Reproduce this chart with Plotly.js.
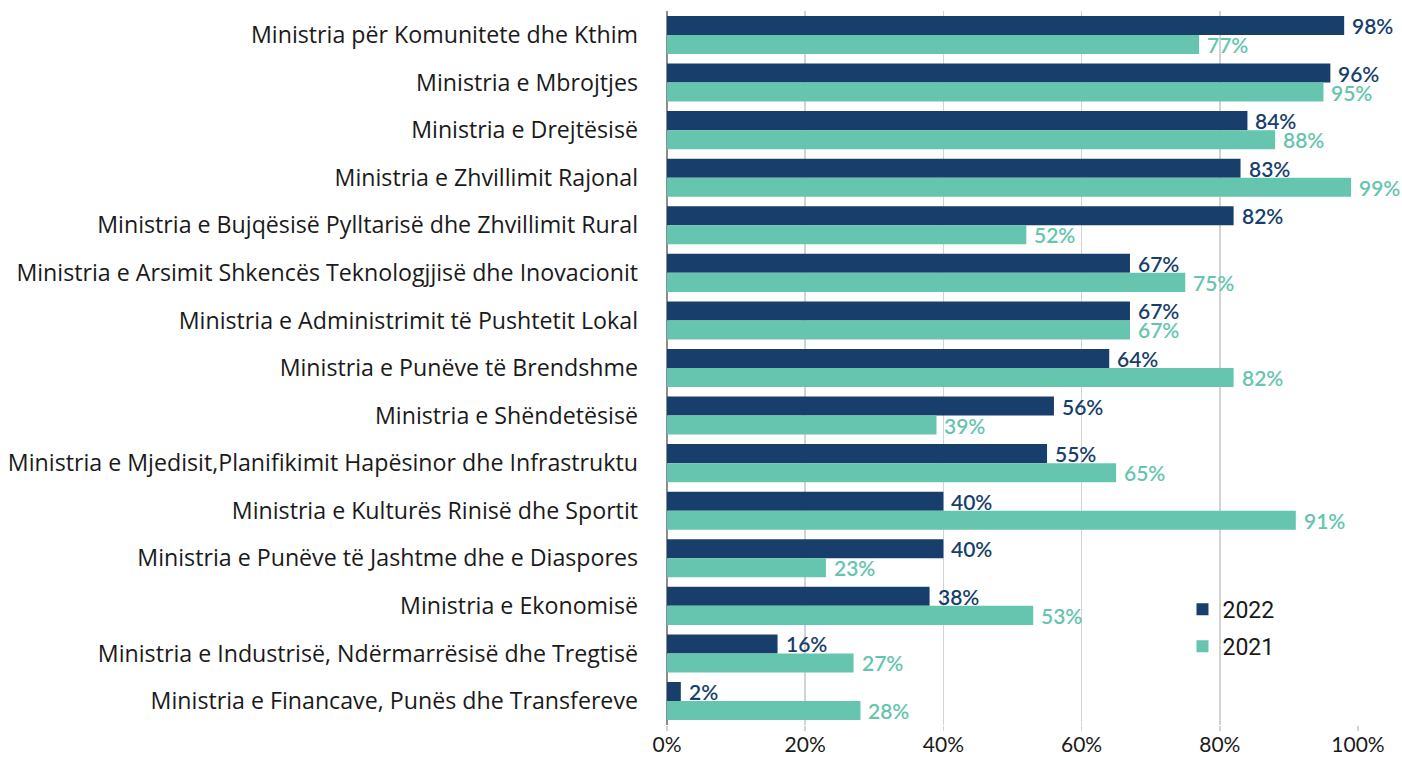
<!DOCTYPE html>
<html><head><meta charset="utf-8">
<script src="https://cdn.plot.ly/plotly-3.0.1.min.js"></script>
<style>html,body{margin:0;padding:0;background:#fff}#c{width:1402px;height:758px}</style>
</head><body><div id="c"></div>
<script>
const categories = [
  "Ministria për Komunitete dhe Kthim",
  "Ministria e Mbrojtjes",
  "Ministria e Drejtësisë",
  "Ministria e Zhvillimit Rajonal",
  "Ministria e Bujqësisë Pylltarisë dhe Zhvillimit Rural",
  "Ministria e Arsimit Shkencës Teknologjjisë dhe Inovacionit",
  "Ministria e Administrimit të Pushtetit Lokal",
  "Ministria e Punëve të Brendshme",
  "Ministria e Shëndetësisë",
  "Ministria e Mjedisit,Planifikimit Hapësinor dhe Infrastruktu",
  "Ministria e Kulturës Rinisë dhe Sportit",
  "Ministria e Punëve të Jashtme dhe e Diaspores",
  "Ministria e Ekonomisë",
  "Ministria e Industrisë, Ndërmarrësisë dhe Tregtisë",
  "Ministria e Financave, Punës dhe Transfereve"
];
const values2022 = [0.98,0.96,0.84,0.83,0.82,0.67,0.67,0.64,0.56,0.55,0.40,0.40,0.38,0.16,0.02];
const values2021 = [0.77,0.95,0.88,0.99,0.52,0.75,0.67,0.82,0.39,0.65,0.91,0.23,0.53,0.27,0.28];
const tickVals = [0,0.2,0.4,0.6,0.8,1.0];
const tickText = ["0%","20%","40%","60%","80%","100%"];

const navy = "#183f6b";
const teal = "#66c5ae";
const fmt = v => Math.round(v*100) + "%";

const traces = [
  {type:"bar", orientation:"h", name:"2022", legendgroup:"a", y:categories, x:values2022,
   marker:{color:navy}, hoverinfo:"skip"},
  {type:"bar", orientation:"h", name:"2021", legendgroup:"b", y:categories, x:values2021,
   marker:{color:teal}, hoverinfo:"skip"}
];

const annotations = [];
categories.forEach((c, i) => {
  annotations.push({x:values2022[i], y:c, xref:"x", yref:"y", text:fmt(values2022[i]),
    showarrow:false, xanchor:"left", yanchor:"bottom", xshift:6, yshift:-5,
    font:{family:"Lato", size:21, color:navy, weight:600}});
  annotations.push({x:values2021[i], y:c, xref:"x", yref:"y", text:fmt(values2021[i]),
    showarrow:false, xanchor:"left", yanchor:"bottom", xshift:6, yshift:-24,
    font:{family:"Lato", size:21, color:teal, weight:600}});
});

const layout = {
  width:1402, height:758,
  margin:{l:667, r:44, t:11, b:33},
  barmode:"group", bargap:0.2, bargroupgap:0,
  paper_bgcolor:"#fff", plot_bgcolor:"#fff",
  font:{family:"Open Sans", color:"#1a1a1a"},
  annotations: annotations,
  xaxis:{range:[0,1], tickvals:tickVals, ticktext:tickText, showgrid:true,
    gridcolor:"#d3d3d3", gridwidth:1.5, zeroline:true, zerolinecolor:"#8c8c8c", zerolinewidth:1.5,
    ticks:"outside", ticklen:5, tickcolor:"#d3d3d3", tickwidth:1.5, ticklabelstandoff:-4,
    tickfont:{family:"Lato", size:21, color:"#1a1a1a"}, fixedrange:true},
  yaxis:{autorange:"reversed", type:"category", ticklabelstandoff:28, showgrid:false,
    tickfont:{family:"Open Sans", size:23.2, color:"#1a1a1a"}},
  showlegend:true,
  legend:{x:0.746, y:0.192, xanchor:"left", yanchor:"top", bgcolor:"rgba(0,0,0,0)",
    traceorder:"grouped", tracegroupgap:4,
    font:{family:"Roboto", size:23, color:"#1a1a1a"}, itemwidth:30}
};
Plotly.newPlot("c", traces, layout, {displayModeBar:false, staticPlot:true});
</script></body></html>
